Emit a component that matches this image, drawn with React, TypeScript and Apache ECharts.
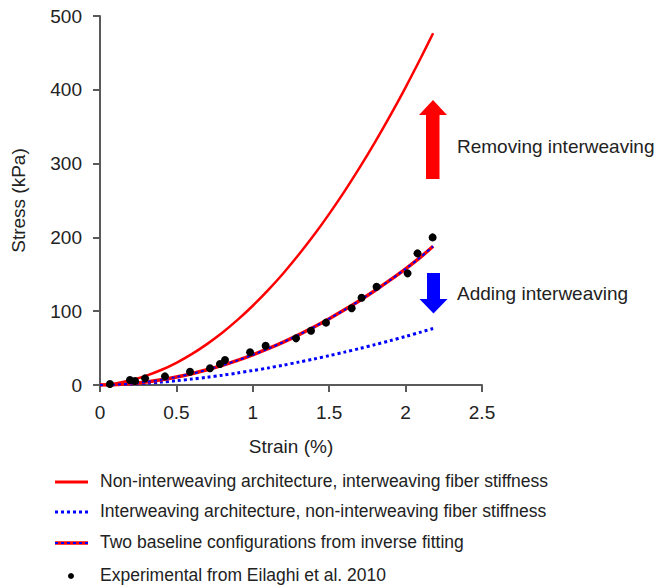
import React, { useEffect, useRef } from "react";
import * as echarts from "echarts";

// Strain sample positions (%) for the model curves
const strainGrid = [0, 0.1, 0.2, 0.3, 0.4, 0.5, 0.6, 0.7, 0.8, 0.9, 1.0, 1.1, 1.2, 1.3, 1.4, 1.5, 1.6, 1.7, 1.8, 1.9, 2.0, 2.1, 2.18];

// Non-interweaving architecture, interweaving fiber stiffness (kPa)
const nonInterweavingStress = [0, 2.2, 6.4, 12.4, 20.3, 30.1, 41.8, 55.4, 70.8, 88.2, 107.4, 128.5, 151.5, 176.4, 203.1, 231.9, 262.4, 294.8, 329.1, 365.3, 403.4, 443.4, 476.7];

// Interweaving architecture, non-interweaving fiber stiffness (kPa)
const interweavingStress = [0, 0.35, 1.2, 2.4, 3.9, 5.8, 8.0, 10.5, 13.2, 16.3, 19.6, 23.1, 26.9, 31.0, 35.2, 39.8, 44.5, 49.5, 54.7, 60.1, 65.8, 71.7, 76.5];

// Two baseline configurations from inverse fitting (kPa)
const baselineStress = [0, 0.5, 1.9, 4.1, 7.1, 10.8, 15.3, 20.6, 26.6, 33.4, 40.9, 49.2, 58.2, 68.0, 78.5, 89.8, 101.8, 114.6, 128.1, 142.4, 157.4, 173.6, 188];

// Experimental data (Eilaghi et al. 2010)
const expStrain = [0.065, 0.196, 0.229, 0.295, 0.425, 0.589, 0.72, 0.785, 0.818, 0.982, 1.084, 1.283, 1.381, 1.479, 1.647, 1.712, 1.81, 2.013, 2.078, 2.177];
const expStress = [1.4, 6.8, 5.4, 9, 11.7, 18, 22.6, 28.5, 33.9, 44.3, 53.1, 63.2, 73.6, 84.5, 103.9, 118.3, 133.2, 151.3, 178.4, 200];

const xTicks = [0, 0.5, 1, 1.5, 2, 2.5];
const yTicks = [0, 100, 200, 300, 400, 500];

const legendLabels = [
  "Non-interweaving architecture, interweaving fiber stiffness",
  "Interweaving architecture, non-interweaving fiber stiffness",
  "Two baseline configurations from inverse fitting",
  "Experimental from Eilaghi et al. 2010",
];

const annotations = ["Removing interweaving", "Adding interweaving"];

const FONT = "'Liberation Sans', Arial, sans-serif";
const RED = "#ff0000";
const BLUE = "#0000ff";
const TEXT = "#222222";
const AXIS = "#5a5a5a";

export default function App() {
  const ref = useRef<HTMLDivElement>(null);

  useEffect(() => {
    if (!ref.current) return;
    const chart = echarts.init(ref.current, undefined, { renderer: "svg" });

    const pair = (ys: number[]) => strainGrid.map((x, i) => [x, ys[i]]);
    const expData = expStrain.map((x, i) => [x, expStress[i]]);

    const legendY = [482, 512, 543, 576];

    const option: any = {
      animation: false,
      backgroundColor: "#ffffff",
      grid: { left: 100, right: 178, top: 16, bottom: 201, containLabel: false },
      xAxis: {
        type: "value",
        min: xTicks[0],
        max: xTicks[xTicks.length - 1],
        interval: xTicks[1] - xTicks[0],
        name: "Strain (%)",
        nameLocation: "middle",
        nameGap: 52,
        nameTextStyle: { fontFamily: FONT, fontSize: 19, color: TEXT },
        axisLine: { show: true, lineStyle: { color: AXIS, width: 2 } },
        axisTick: { show: true, length: 7, lineStyle: { color: AXIS, width: 2 } },
        axisLabel: { fontFamily: FONT, fontSize: 19, color: TEXT, margin: 18 },
        splitLine: { show: false },
      },
      yAxis: {
        type: "value",
        min: yTicks[0],
        max: yTicks[yTicks.length - 1],
        interval: yTicks[1] - yTicks[0],
        name: "Stress (kPa)",
        nameLocation: "middle",
        nameGap: 72,
        nameTextStyle: { fontFamily: FONT, fontSize: 19, color: TEXT },
        axisLine: { show: true, lineStyle: { color: AXIS, width: 2 } },
        axisTick: { show: true, length: 7, lineStyle: { color: AXIS, width: 2 } },
        axisLabel: { fontFamily: FONT, fontSize: 19, color: TEXT, margin: 18 },
        splitLine: { show: false },
      },
      series: [
        {
          name: legendLabels[1],
          type: "line",
          data: pair(interweavingStress),
          showSymbol: false,
          smooth: 0.3,
          lineStyle: { color: BLUE, width: 3, type: [3, 3] },
          z: 2,
        },
        {
          name: legendLabels[0],
          type: "line",
          data: pair(nonInterweavingStress),
          showSymbol: false,
          smooth: 0.3,
          lineStyle: { color: RED, width: 2.5 },
          z: 2,
        },
        {
          name: legendLabels[2],
          type: "line",
          data: pair(baselineStress),
          showSymbol: false,
          smooth: 0.3,
          lineStyle: { color: RED, width: 3.5 },
          z: 3,
        },
        {
          name: legendLabels[2] + " (overlay)",
          type: "line",
          data: pair(baselineStress),
          showSymbol: false,
          smooth: 0.3,
          lineStyle: { color: BLUE, width: 2, type: [3, 3] },
          z: 4,
        },
        {
          name: legendLabels[3],
          type: "scatter",
          data: expData,
          symbol: "circle",
          symbolSize: 8,
          itemStyle: { color: "#000000", opacity: 1 },
          z: 5,
        },
      ],
      graphic: [
        // Arrows
        {
          type: "polygon",
          shape: { points: [[426, 179], [426, 115], [419, 115], [433, 100], [447, 115], [439.5, 115], [439.5, 179]] },
          style: { fill: RED },
        },
        {
          type: "polygon",
          shape: { points: [[427, 273], [440, 273], [440, 299], [447.5, 299], [433.5, 313.5], [419.5, 299], [427, 299]] },
          style: { fill: BLUE },
        },
        {
          type: "text",
          left: 457,
          top: 148 - 11,
          style: { text: annotations[0], fontFamily: FONT, fontSize: 19, fill: TEXT },
        },
        {
          type: "text",
          left: 457,
          top: 295 - 11,
          style: { text: annotations[1], fontFamily: FONT, fontSize: 19, fill: TEXT },
        },
        // Legend
        {
          type: "line",
          shape: { x1: 55, y1: legendY[0], x2: 88, y2: legendY[0] },
          style: { stroke: RED, lineWidth: 3 },
        },
        {
          type: "line",
          shape: { x1: 55, y1: legendY[1], x2: 88, y2: legendY[1] },
          style: { stroke: BLUE, lineWidth: 3, lineDash: [3, 3] },
        },
        {
          type: "line",
          shape: { x1: 55, y1: legendY[2], x2: 88, y2: legendY[2] },
          style: { stroke: RED, lineWidth: 3.5 },
        },
        {
          type: "line",
          shape: { x1: 55, y1: legendY[2], x2: 88, y2: legendY[2] },
          style: { stroke: BLUE, lineWidth: 2, lineDash: [3, 3] },
        },
        {
          type: "circle",
          shape: { cx: 71, cy: legendY[3], r: 3 },
          style: { fill: "#000000" },
        },
        ...legendLabels.map((t, i) => ({
          type: "text",
          left: 100,
          top: legendY[i] - 10,
          style: { text: t, fontFamily: FONT, fontSize: 17.5, fill: TEXT },
        })),
      ],
    };

    chart.setOption(option);
    return () => chart.dispose();
  }, []);

  return (
    <div
      ref={ref}
      style={{ position: "absolute", left: 0, top: 0, width: 660, height: 586, background: "#fff" }}
    />
  );
}
